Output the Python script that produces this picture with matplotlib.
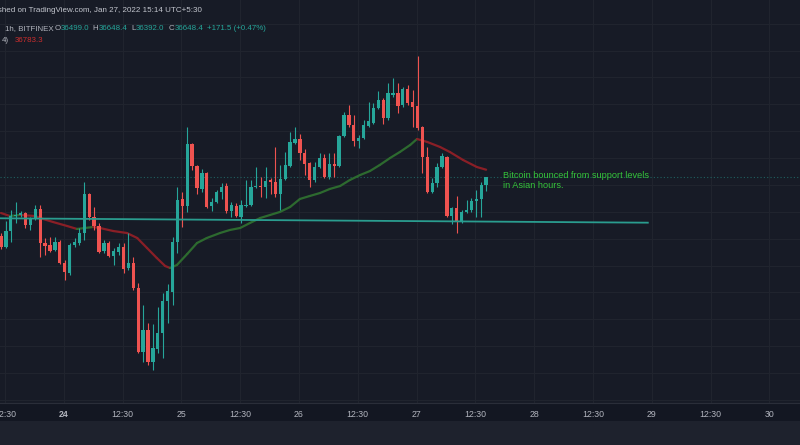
import matplotlib
matplotlib.use('Agg')
import matplotlib.pyplot as plt
from matplotlib.collections import LineCollection
from matplotlib.patches import Rectangle
import numpy as np

plt.rcParams['font.family'] = ['Liberation Sans', 'DejaVu Sans']

# --- hourly BTCUSD candles (Bitfinex) ---
opens = [35550, 35346, 35643, 35922, 35941, 35978, 35755, 35867, 36053, 35420,
         35383, 35290, 35439, 35048, 34862, 35383, 35420, 35606, 36332, 35904,
         35736, 35271, 35420, 35178, 35253, 35346, 34955, 35048, 34584, 33393,
         33802, 33207, 33449, 33746, 34341, 34509, 35439, 36239, 36108, 37262,
         36852, 36425, 36722, 36108, 36183, 36369, 36480, 36015, 36108, 35904,
         36108, 36127, 36462, 36480, 36462, 36592, 36555, 36332, 36611, 36852,
         37280, 37355, 37094, 36908, 36592, 36834, 37001, 36648, 36890, 36852,
         37410, 37801, 37615, 37317, 37373, 37596, 37652, 37931, 38080, 37745,
         38173, 38210, 37987, 38285, 38043, 37968, 37578, 37020, 36369, 36536,
         36834, 37020, 35922, 36071, 35811, 35997, 36034, 36201, 36239, 36499.0]
highs = [35606, 35829, 36034, 36183, 36015, 35997, 35904, 36127, 36127, 35513,
         35532, 35532, 35476, 35104, 35420, 35513, 35699, 36555, 36350, 36090,
         35792, 35476, 35457, 35327, 35420, 35420, 35606, 35160, 34676, 34267,
         33932, 33914, 34230, 34490, 34658, 35532, 36462, 36369, 37578, 37280,
         36871, 36797, 36741, 36257, 36406, 36536, 36536, 36183, 36164, 36220,
         36592, 36592, 36834, 36648, 36834, 36629, 37206, 36871, 37113, 37485,
         37578, 37448, 37169, 36927, 36927, 37094, 37076, 37094, 37094, 37429,
         37857, 37987, 37801, 37429, 37708, 38043, 38024, 38247, 38117, 38396,
         38489, 38396, 38322, 38359, 38266, 38898, 37596, 37206, 36629, 36908,
         37094, 37038, 36090, 36294, 36034, 36220, 36257, 36406, 36555, 36648.4]
lows = [35309, 35327, 35439, 35792, 35904, 35699, 35662, 35848, 35160, 35197,
        35253, 35271, 35030, 34732, 34825, 35346, 35383, 35476, 35848, 35662,
        35234, 35234, 35160, 35011, 35197, 34862, 34918, 34546, 33374, 33207,
        33151, 33058, 33374, 33281, 33932, 34267, 35234, 35718, 35997, 36778,
        36332, 36369, 36071, 36015, 36164, 36239, 35978, 35904, 35904, 35792,
        36090, 36108, 36443, 36276, 36257, 36332, 36276, 36034, 36592, 36834,
        37262, 36964, 36685, 36462, 36555, 36815, 36629, 36611, 36648, 36834,
        37392, 37578, 37224, 37187, 37355, 37578, 37634, 37913, 37634, 37708,
        38136, 37838, 37950, 37987, 37578, 37522, 36722, 36350, 36350, 36462,
        36815, 35904, 35774, 35606, 35792, 35978, 35997, 35904, 35904, 36392.0]
closes = [35346, 35643, 35922, 35941, 35978, 35755, 35867, 36053, 35420, 35364,
          35271, 35439, 35048, 34881, 35383, 35439, 35606, 36332, 35904, 35736,
          35253, 35420, 35178, 35271, 35346, 34936, 35048, 34584, 33393, 33802,
          33207, 33467, 33746, 34341, 34527, 35439, 36220, 36108, 37262, 36852,
          36443, 36722, 36090, 36183, 36369, 36462, 36015, 36127, 35922, 36127,
          36127, 36462, 36480, 36462, 36573, 36555, 36332, 36611, 36871, 37299,
          37355, 37094, 36890, 36592, 36834, 37001, 36648, 36890, 36852, 37410,
          37801, 37615, 37317, 37373, 37615, 37689, 37931, 38080, 37745, 38210,
          38210, 37968, 38285, 38024, 37950, 37559, 37020, 36369, 36536, 36834,
          37038, 35922, 36071, 35811, 35997, 36034, 36201, 36239, 36499, 36648.4]

# moving average overlay, sampled along the drawn line (x = candle index)
ma_idx = [0, 1.8, 3.9, 6.9, 8.6, 10.6, 13.5, 15.5, 17.1, 18.8, 20.2, 22.9, 25.7,
          27.8, 29.8, 31.8, 33.5, 34.5, 35.9, 38, 40, 42, 44.7, 46.7, 48.8, 50.8,
          52.9, 54.9, 56.9, 59, 61, 63, 65.1, 67.1, 69.2, 71.2, 73.3, 75.3, 77.3,
          79.4, 81.4, 83.5, 84.9, 87, 89.6, 91.6, 94.3, 97.1, 99]
ma_vals = [35978, 35922, 35941, 35922, 35867, 35811, 35736, 35681, 35699, 35718,
           35699, 35643, 35606, 35513, 35327, 35141, 34992, 34955, 35011, 35216,
           35420, 35513, 35606, 35662, 35699, 35792, 35885, 35941, 35997, 36090,
           36239, 36294, 36350, 36425, 36480, 36592, 36685, 36759, 36871, 37001,
           37113, 37243, 37355, 37299, 37206, 37113, 36964, 36834, 36783.3]

support_idx = [-1, 132]
support_vals = [35880, 35798]
last_price = 36648.4

tick_labels = ["12:30", "24", "12:30", "25", "12:30", "26", "12:30", "27",
               "12:30", "28", "12:30", "29", "12:30", "30"]

BG = '#171b26'
UP = '#26a69a'
DOWN = '#ef5350'
GREY = '#b2b5be'

fig = plt.figure(figsize=(8, 4.45), dpi=100, facecolor='#131722')
fig.add_artist(Rectangle((0, 0), 1, 24 / 445, transform=fig.transFigure,
                         facecolor='#1e222d', edgecolor='none', zorder=0))
ax = fig.add_axes([0, 42 / 445, 1, 403 / 445])
ax.set_facecolor(BG)

# candles
x = np.arange(len(opens))
o = np.array(opens)
c = np.array(closes)
colors = np.where(c >= o, UP, DOWN)
ax.vlines(x, lows, highs, colors=colors, lw=0.8, zorder=3)
body_lo = np.minimum(o, c)
body_h = np.maximum(np.abs(c - o), 20)
ax.bar(x, body_h, bottom=body_lo, width=0.68, color=colors, lw=0, zorder=4)

# MA, green when rising, red when falling
pts = np.column_stack([ma_idx, ma_vals])
segs = np.stack([pts[:-1], pts[1:]], axis=1)
seg_col = ['#2d6a2f' if b > a else '#8a1f26' for a, b in zip(ma_vals[:-1], ma_vals[1:])]
ax.add_collection(LineCollection(segs, colors=seg_col, linewidths=1.6,
                                 capstyle='round', zorder=2))

# support line + last price line
ax.plot(support_idx, support_vals, color='#2a9d8f', lw=1.3, zorder=5)
ax.axhline(last_price, color=UP, lw=0.8, ls=(0, (1, 2)), alpha=0.5, zorder=1)

ax.text(102.4, 36760, "Bitcoin bounced from support levels\nin Asian hours.",
        color='#35c43a', fontsize=6.6, va='top', ha='left', linespacing=1.1)

ax.set_xlim(-0.204, 163.06)
ax.set_ylim(32444, 39940)
ax.set_xticks([0.8 + 12 * k for k in range(len(tick_labels))])
ax.set_xticklabels(tick_labels, fontsize=6.3, color=GREY)
ax.get_xticklabels()[1].set_fontweight('bold')
ax.set_yticks(np.arange(32500, 40000, 500))
ax.set_yticklabels([])
ax.tick_params(length=0, pad=5)
ax.grid(True, color='#21252f', lw=0.7)
ax.set_axisbelow(True)
for s in ['top', 'left', 'right']:
    ax.spines[s].set_visible(False)
ax.spines['bottom'].set_color('#2a2e39')


def px(xp, yp):
    return xp / 800, 1 - yp / 445


# header
fig.text(*px(202, 10.5), "published on TradingView.com, Jan 27, 2022 15:14 UTC+5:30",
         color='#c3c6ce', fontsize=5.8, ha='right', va='center')

header = [("1h, BITFINEX", 5, GREY), ("O", 54.3, GREY), ("36499.0", 58.7, UP),
          ("H", 92.3, GREY), ("36648.4", 97, UP), ("L", 131, GREY),
          ("36392.0", 134.7, UP), ("C", 169, GREY), ("36648.4", 173, UP),
          ("+171.5 (+0.47%)", 206.7, UP)]
renderer = fig.canvas.get_renderer()
prev_end = 0
for txt, xp, col in header:
    start = max(xp, prev_end + 0.5)
    t = fig.text(*px(start, 29), txt, color=col, fontsize=5.7, ha='left', va='center')
    prev_end = t.get_window_extent(renderer).x1
fig.text(*px(2, 40), "4)", color=GREY, fontsize=5.7, ha='left', va='center')
fig.text(*px(15, 40), "36783.3", color='#cc2e2e', fontsize=5.7, ha='left', va='center')

fig.savefig('out.png', dpi=100, facecolor=fig.get_facecolor())
